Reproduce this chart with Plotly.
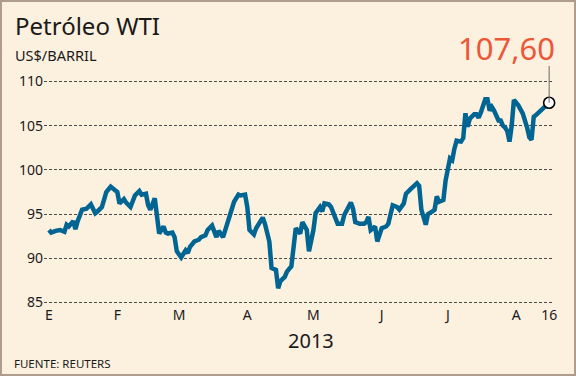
import plotly.graph_objects as go

dates = [
    "2013-01-01", "2013-01-02", "2013-01-04", "2013-01-06", "2013-01-08", "2013-01-09", "2013-01-10",
    "2013-01-12", "2013-01-13", "2013-01-14", "2013-01-16", "2013-01-18", "2013-01-20", "2013-01-22",
    "2013-01-23", "2013-01-25", "2013-01-27", "2013-01-29", "2013-01-31",
    "2013-02-01", "2013-02-02", "2013-02-04", "2013-02-05", "2013-02-07", "2013-02-09", "2013-02-11",
    "2013-02-12", "2013-02-14", "2013-02-15", "2013-02-16", "2013-02-18", "2013-02-19", "2013-02-20",
    "2013-02-22", "2013-02-23", "2013-02-24", "2013-02-26", "2013-02-27", "2013-02-28",
    "2013-03-02", "2013-03-04", "2013-03-05", "2013-03-06", "2013-03-08", "2013-03-10", "2013-03-11",
    "2013-03-13", "2013-03-14", "2013-03-16", "2013-03-18", "2013-03-19", "2013-03-21", "2013-03-22",
    "2013-03-23", "2013-03-25", "2013-03-26", "2013-03-28", "2013-03-29", "2013-03-31",
    "2013-04-01", "2013-04-02", "2013-04-04", "2013-04-05", "2013-04-07", "2013-04-08", "2013-04-09",
    "2013-04-11", "2013-04-12", "2013-04-14", "2013-04-15", "2013-04-16", "2013-04-18", "2013-04-19",
    "2013-04-21", "2013-04-22", "2013-04-23", "2013-04-25", "2013-04-26", "2013-04-28", "2013-04-29",
    "2013-05-01", "2013-05-02", "2013-05-04", "2013-05-05", "2013-05-06", "2013-05-08", "2013-05-09",
    "2013-05-11", "2013-05-12", "2013-05-14", "2013-05-15", "2013-05-18", "2013-05-19", "2013-05-20",
    "2013-05-22", "2013-05-24", "2013-05-25", "2013-05-26", "2013-05-27", "2013-05-29", "2013-05-30",
    "2013-06-01", "2013-06-03", "2013-06-04", "2013-06-06", "2013-06-08", "2013-06-09", "2013-06-11",
    "2013-06-12", "2013-06-14", "2013-06-15", "2013-06-17", "2013-06-18", "2013-06-19", "2013-06-21",
    "2013-06-22", "2013-06-24", "2013-06-25", "2013-06-26", "2013-06-27", "2013-06-29", "2013-06-30",
    "2013-07-02", "2013-07-03", "2013-07-04", "2013-07-05", "2013-07-07", "2013-07-08", "2013-07-09",
    "2013-07-10", "2013-07-11", "2013-07-13", "2013-07-14", "2013-07-15", "2013-07-16", "2013-07-18",
    "2013-07-19", "2013-07-20", "2013-07-21", "2013-07-22", "2013-07-24", "2013-07-25", "2013-07-26",
    "2013-07-27", "2013-07-28", "2013-07-29", "2013-07-30", "2013-07-31",
    "2013-08-02", "2013-08-03", "2013-08-04", "2013-08-06", "2013-08-07", "2013-08-08", "2013-08-09",
    "2013-08-10", "2013-08-12", "2013-08-13", "2013-08-15", "2013-08-16",
]

prices = [
    93.2, 92.9, 93.1, 93.2, 93.0, 93.8, 93.6,
    94.2, 93.3, 94.2, 95.5, 95.6, 96.1, 95.1,
    95.3, 95.8, 97.5, 98.1, 97.7,
    97.5, 96.2, 96.7, 96.3, 95.8, 97.1, 97.6,
    97.2, 97.3, 96.0, 95.5, 96.8, 95.1, 92.8,
    93.6, 92.9, 92.8, 92.9, 92.4, 90.8,
    90.1, 90.9, 90.6, 91.3, 91.9, 92.1, 92.4,
    92.6, 93.2, 93.7, 92.4, 93.1, 92.4, 93.2,
    94.3, 95.8, 96.4, 97.2, 97.1, 97.2,
    95.8, 93.2, 92.7, 93.4, 94.1, 94.6, 93.9,
    91.9, 88.9, 88.7, 86.6, 87.4, 87.9, 88.5,
    89.1, 90.9, 93.4, 92.8, 94.1, 93.2, 90.8,
    93.2, 95.1, 95.8, 95.3, 96.2, 96.1, 95.8,
    94.7, 93.9, 93.9, 94.9, 96.3, 95.6, 94.1,
    93.9, 93.9, 94.1, 94.7, 93.2, 93.6, 91.9,
    93.4, 93.6, 93.9, 96.0, 95.8, 95.5, 96.2,
    97.3, 97.8, 98.0, 98.5, 98.2, 95.5, 93.8,
    95.0, 95.3, 95.5, 97.0, 96.4, 96.6, 98.8,
    101.3, 101.1, 102.4, 103.3, 103.2, 103.6, 106.4,
    104.9, 105.8, 106.3, 106.3, 105.9, 106.5, 108.0,
    108.0, 106.7, 107.1, 106.7, 105.6, 105.6, 105.0,
    104.8, 104.4, 103.2, 105.0, 107.9,
    107.3, 106.9, 106.4, 104.8, 103.7, 103.4, 106.0,
    106.2, 106.7, 106.9, 107.3, 107.6,
]

tick_dates = ["2013-01-01", "2013-02-01", "2013-03-01", "2013-04-01", "2013-05-01",
              "2013-06-01", "2013-07-01", "2013-08-01", "2013-08-16"]
tick_text = ["E", "F", "M", "A", "M", "J", "J", "A", "16"]
y_ticks = [85, 90, 95, 100, 105, 110]
last_label = "107,60"

W, H = 576, 376
L, R, T, B = 44, 552, 75, 305
Y_LO, Y_HI = 84.717, 110.735
FONT = "Noto Sans"


def px(x):
    return (x - L) / (R - L)


def py(y):
    return (B - y) / (B - T)


def py_val(v):
    return (v - Y_LO) / (Y_HI - Y_LO)


fig = go.Figure()
fig.add_trace(go.Scatter(
    x=dates, y=prices, mode="lines",
    line=dict(color="#006592", width=4.5, shape="linear"),
    hoverinfo="skip", showlegend=False,
))

# leader line from last point to label
fig.add_shape(type="line", xref="x", yref="paper",
              x0=dates[-1], x1=dates[-1], y0=py_val(prices[-1]), y1=py(66),
              line=dict(color="#6b6b6b", width=1))

fig.add_trace(go.Scatter(
    x=[dates[-1]], y=[prices[-1]], mode="markers",
    marker=dict(size=11, color="white", line=dict(color="black", width=1.6)),
    cliponaxis=False, hoverinfo="skip", showlegend=False,
))

# frame
fig.add_shape(type="rect", xref="paper", yref="paper",
              x0=px(1), x1=px(575), y0=py(1), y1=py(375),
              line=dict(color="#b09c8c", width=2), layer="below")

ann = [
    dict(text="Petróleo WTI", x=px(13), y=py(26), xanchor="left", yanchor="middle",
         font=dict(size=24, color="#1a1a1a", family=FONT)),
    dict(text="US$/BARRIL", x=px(13), y=py(55.5), xanchor="left", yanchor="middle",
         font=dict(size=14.5, color="#1a1a1a", family=FONT)),
    dict(text="2013", x=px(311), y=py(340), xanchor="center", yanchor="middle",
         font=dict(size=20, color="#1a1a1a", family=FONT)),
    dict(text="FUENTE: REUTERS", x=px(12), y=py(363), xanchor="left", yanchor="middle",
         font=dict(size=11.5, color="#1a1a1a", family=FONT)),
    dict(text=last_label, x=px(557), y=py(48), xanchor="right", yanchor="middle",
         font=dict(size=31, color="#ee5638", family=FONT)),
]
for a in ann:
    a.update(xref="paper", yref="paper", showarrow=False)
fig.update_layout(annotations=ann)

fig.update_layout(
    width=W, height=H,
    margin=dict(l=L, r=W - R, t=T, b=H - B, pad=0),
    paper_bgcolor="#fcf0df", plot_bgcolor="#fcf0df",
    font=dict(family=FONT, color="#1a1a1a"),
    showlegend=False,
)
fig.update_xaxes(
    type="date", range=["2012-12-29 17:30", "2013-08-17 07:00"],
    tickmode="array", tickvals=tick_dates, ticktext=tick_text,
    showgrid=False, zeroline=False, showline=False, ticks="",
    tickfont=dict(size=14, color="#1a1a1a", family=FONT),
)
fig.update_yaxes(
    range=[Y_LO, Y_HI], tickmode="array", tickvals=y_ticks,
    ticktext=[str(v) for v in y_ticks],
    showgrid=True, gridcolor="#4a4a4a", gridwidth=1, griddash="3px,2px",
    zeroline=False, showline=False, ticks="",
    tickfont=dict(size=14, color="#1a1a1a", family=FONT),
)

fig.write_html(
    "out.html",
    config={"displayModeBar": False},
    post_script="document.body.style.margin='0';document.body.style.background='#fcf0df';",
)
